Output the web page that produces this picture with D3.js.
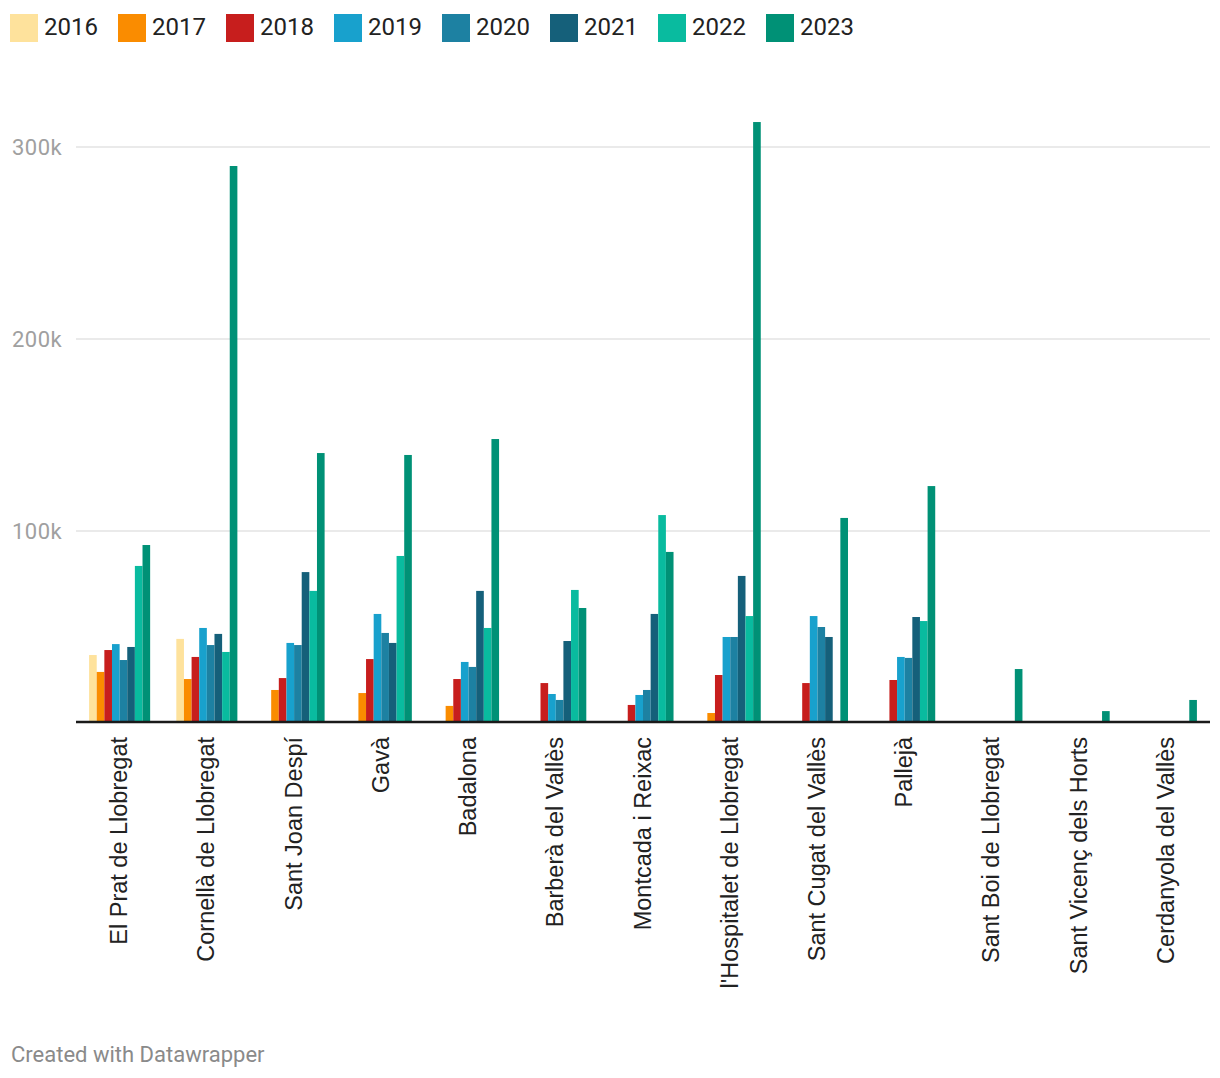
<!DOCTYPE html>
<html>
<head>
<meta charset="utf-8">
<script src="https://cdn.jsdelivr.net/npm/d3@7"></script>
<style>
  html, body { margin: 0; padding: 0; background: #fff; }
  svg { display: block; }
</style>
</head>
<body>
<svg id="chart" width="1220" height="1078"></svg>
<script>
const categories = ["El Prat de Llobregat", "Cornellà de Llobregat", "Sant Joan Despí", "Gavà", "Badalona",
  "Barberà del Vallès", "Montcada i Reixac", "l'Hospitalet de Llobregat", "Sant Cugat del Vallès",
  "Pallejà", "Sant Boi de Llobregat", "Sant Vicenç dels Horts", "Cerdanyola del Vallès"];
const years = ["2016", "2017", "2018", "2019", "2020", "2021", "2022", "2023"];
const colors = ["#fee29c", "#fa8c00", "#c71e1d", "#18a1cd", "#1d81a2", "#15607a", "#09bb9f", "#009176"];

const v2016 = [35400, 43800, null, null, null, null, null, null, null, null, null, null, null];
const v2017 = [26600, 22900, 17200, 15600, 8900, null, null, 5200, null, null, null, null, null];
const v2018 = [38000, 34400, 23400, 33300, 22900, 20800, 9400, 25000, 20800, 22400, null, null, null];
const v2019 = [41100, 49500, 41700, 56800, 31800, 15100, 14600, 44800, 55700, 34400, null, null, null];
const v2020 = [32800, 40600, 40600, 46900, 29200, 12000, 17200, 44800, 50000, 33900, null, null, null];
const v2021 = [39600, 46400, 78600, 41700, 68800, 42700, 56800, 76600, 44800, 55200, null, null, null];
const v2022 = [81800, 37000, 68800, 87000, 49500, 69300, 108300, 55700, 1000, 53100, null, null, null];
const v2023 = [92700, 290100, 140600, 139600, 147900, 59900, 89100, 313000, 106800, 123400, 28100, 6200, 12000];
const series = [v2016, v2017, v2018, v2019, v2020, v2021, v2022, v2023];

const yTicks = [100000, 200000, 300000];
const yTickLabels = ["100k", "200k", "300k"];

const svg = d3.select("#chart");

const left = 76, right = 1210;
const x0 = d3.scaleBand().domain(categories).range([left, right]).paddingInner(0.3).paddingOuter(0.15);
const x1 = d3.scaleBand().domain(years).range([0, x0.bandwidth()]).padding(0);
const y = d3.scaleLinear().domain([0, 300000]).range([723, 147]);
const color = d3.scaleOrdinal().domain(years).range(colors);

// legend
const legend = svg.append("g").attr("class", "legend");
years.forEach((yr, i) => {
  const g = legend.append("g").attr("transform", `translate(${10 + i * 108},14)`);
  g.append("rect").attr("width", 28).attr("height", 28).attr("fill", color(yr));
  g.append("text").attr("x", 34).attr("y", 21)
    .attr("font-family", "Roboto, sans-serif").attr("font-size", 24).attr("fill", "#222")
    .text(yr);
});

// gridlines
const grid = svg.append("g");
yTicks.forEach((t, i) => {
  grid.append("line").attr("x1", left).attr("x2", right)
    .attr("y1", y(t)).attr("y2", y(t))
    .attr("stroke", "#e3e3e3").attr("stroke-width", 1.5);
  grid.append("text").attr("x", 12).attr("y", y(t) + 8)
    .attr("font-family", "Roboto, sans-serif").attr("font-size", 22).attr("fill", "#a0a0a0")
    .attr("letter-spacing", "0.5px")
    .text(yTickLabels[i]);
});

// bars
const rows = [];
categories.forEach((c, ci) => {
  years.forEach((yr, yi) => {
    const v = series[yi][ci];
    if (v !== null) rows.push({ c, yr, v });
  });
});
svg.append("g").selectAll("rect").data(rows).join("rect")
  .attr("x", d => x0(d.c) + x1(d.yr))
  .attr("width", x1.bandwidth())
  .attr("y", d => y(d.v))
  .attr("height", d => y(0) - y(d.v))
  .attr("fill", d => color(d.yr));

// axis line
svg.append("line").attr("x1", left).attr("x2", right)
  .attr("y1", 722).attr("y2", 722).attr("stroke", "#1a1a1a").attr("stroke-width", 2.5);

// x labels
svg.append("g").selectAll("text").data(categories).join("text")
  .attr("transform", d => `translate(${x0(d) + x0.bandwidth() / 2},737) rotate(-90)`)
  .attr("text-anchor", "end")
  .attr("dy", "0.32em")
  .attr("font-family", "'Liberation Sans', Arial, sans-serif")
  .attr("font-size", 23.5)
  .attr("fill", "#222")
  .text(d => d);

// footer
svg.append("text").attr("x", 11).attr("y", 1062)
  .attr("font-family", "Roboto, sans-serif").attr("font-size", 22).attr("fill", "#8a8a8a")
  .text("Created with Datawrapper");
</script>
</body>
</html>
